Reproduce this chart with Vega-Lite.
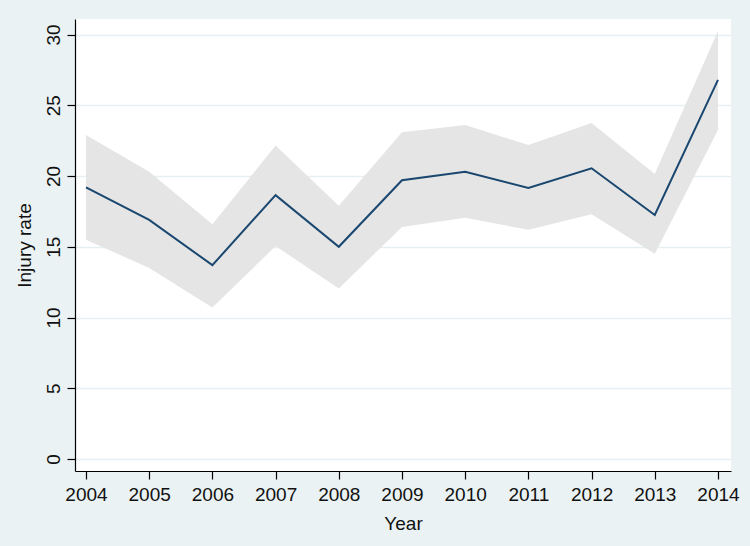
{
  "$schema": "https://vega.github.io/schema/vega-lite/v6.json",
  "width": 656,
  "height": 452,
  "autosize": {"type": "none"},
  "padding": {"left": 75, "top": 19, "right": 19, "bottom": 75},
  "background": "#EAF2F3",
  "config": {
    "view": {"fill": "white", "stroke": null},
    "font": "Liberation Sans",
    "axis": {
      "domainColor": "#000000",
      "domainWidth": 1.2,
      "tickColor": "#000000",
      "tickSize": 8,
      "tickWidth": 1.2,
      "labelColor": "#111111",
      "labelFontSize": 19,
      "titleColor": "#111111",
      "titleFontSize": 19,
      "titleFontWeight": "normal",
      "gridColor": "#E6EFF1",
      "gridWidth": 1.3
    }
  },
  "data": {
    "values": [
      {"year": 2004, "rate": 19.2, "lo": 15.5, "hi": 22.9},
      {"year": 2005, "rate": 16.9, "lo": 13.5, "hi": 20.3},
      {"year": 2006, "rate": 13.7, "lo": 10.7, "hi": 16.6},
      {"year": 2007, "rate": 18.65, "lo": 15.05, "hi": 22.15},
      {"year": 2008, "rate": 15.0, "lo": 12.05, "hi": 17.9},
      {"year": 2009, "rate": 19.7, "lo": 16.4, "hi": 23.1},
      {"year": 2010, "rate": 20.3, "lo": 17.05, "hi": 23.6},
      {"year": 2011, "rate": 19.15, "lo": 16.2, "hi": 22.2},
      {"year": 2012, "rate": 20.55, "lo": 17.3, "hi": 23.75},
      {"year": 2013, "rate": 17.25, "lo": 14.5, "hi": 20.15},
      {"year": 2014, "rate": 26.8, "lo": 23.25, "hi": 30.25}
    ]
  },
  "encoding": {
    "x": {
      "field": "year",
      "type": "quantitative",
      "scale": {"domain": [2003.826, 2014.206], "nice": false, "zero": false},
      "axis": {
        "values": [2004, 2005, 2006, 2007, 2008, 2009, 2010, 2011, 2012, 2013, 2014],
        "format": "d",
        "grid": false,
        "title": "Year",
        "labelPadding": 6,
        "titlePadding": 10,
        "labelFlush": false
      }
    }
  },
  "layer": [
    {
      "mark": {"type": "area", "color": "#E5E5E5", "opacity": 1},
      "encoding": {
        "y": {
          "field": "lo",
          "type": "quantitative",
          "scale": {"domain": [-0.85, 31.1], "nice": false, "zero": false},
          "axis": {
            "values": [0, 5, 10, 15, 20, 25, 30],
            "title": "Injury rate",
            "labelAngle": -90,
            "labelAlign": "center",
            "labelBaseline": "bottom",
            "labelPadding": 4,
            "titlePadding": 10,
            "labelFlush": false
          }
        },
        "y2": {"field": "hi"}
      }
    },
    {
      "mark": {"type": "line", "color": "#1A476F", "strokeWidth": 2},
      "encoding": {
        "y": {"field": "rate", "type": "quantitative"}
      }
    }
  ]
}
